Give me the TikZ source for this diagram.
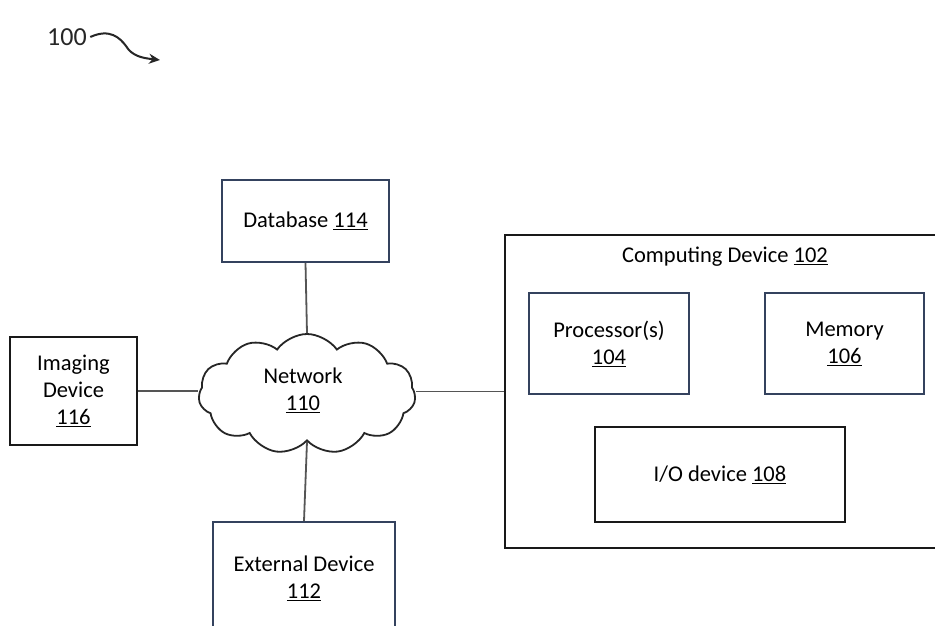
\documentclass[tikz,border=0pt]{standalone}
\usepackage{fontspec}
\setmainfont{Carlito}
\usetikzlibrary{shapes.symbols,arrows.meta}
\definecolor{navy}{HTML}{34425E}
\definecolor{conn}{HTML}{555555}
\begin{document}
\begin{tikzpicture}[x=1pt,y=-1pt,
  box/.style={draw=black!90,line width=2pt,rectangle,inner sep=0pt},
  nbox/.style={box,draw=navy},
  lbl/.style={align=center,font=\fontsize{22.5}{27}\selectfont,text=black},
  conn/.style={draw=conn,line width=1.8pt}]
\clip (0,0) rectangle (935,626);
\fill[white] (0,0) rectangle (935,626);
% 100 label and squiggle arrow
\node[font=\fontsize{26}{30}\selectfont,text=black!85] (ref) at (67,37) {100};
\coordinate (tip) at (160,60);
\draw[line width=2pt,black!85,-{Stealth[length=11pt,width=10pt]}] (ref.east) .. controls (110,28) and (120,38) .. (126,46) .. controls (132,56) and (142,58) .. (tip);
% nodes
\node[nbox,minimum width=167pt,minimum height=82pt,lbl] (db) at (305.5,221) {Database \underline{114}};
\node[box,minimum width=127pt,minimum height=108pt,lbl] (img) at (73.5,391) {Imaging\\Device\\\underline{116}};
\node[cloud,draw=black!85,line width=1.8pt,cloud puffs=11,cloud puff arc=110,aspect=1.8,minimum width=217pt,minimum height=120pt,inner sep=0pt] (net) at (307,394) {};
\node[lbl] (netlbl) at (303,390) {Network\\\underline{110}};
\node[nbox,minimum width=182pt,minimum height=140pt] (ext) at (304,592) {};
\node[lbl] (extlbl) at (304,578) {External Device\\\underline{112}};
\node[box,minimum width=460pt,minimum height=313pt] (comp) at (735,391.5) {};
\node[lbl] (comptitle) at (725,257) {Computing Device \underline{102}};
\node[nbox,minimum width=160pt,minimum height=101pt,lbl] (proc) at (609,343.5) {Processor(s)\\\underline{104}};
\node[nbox,minimum width=159pt,minimum height=101pt,lbl] (mem) at (844.5,343.5) {Memory\\\underline{106}};
\node[box,minimum width=250pt,minimum height=95pt,lbl] (io) at (720,474.5) {I/O device \underline{108}};
% connectors
\draw[conn] (db.south) -- (net.north);
\draw[conn] (img.east) -- (img.east -| net.west);
\draw[conn] (net.east |- comp.west) -- (comp.west);
\draw[conn] (net.south) -- (ext.north);
\end{tikzpicture}
\end{document}
